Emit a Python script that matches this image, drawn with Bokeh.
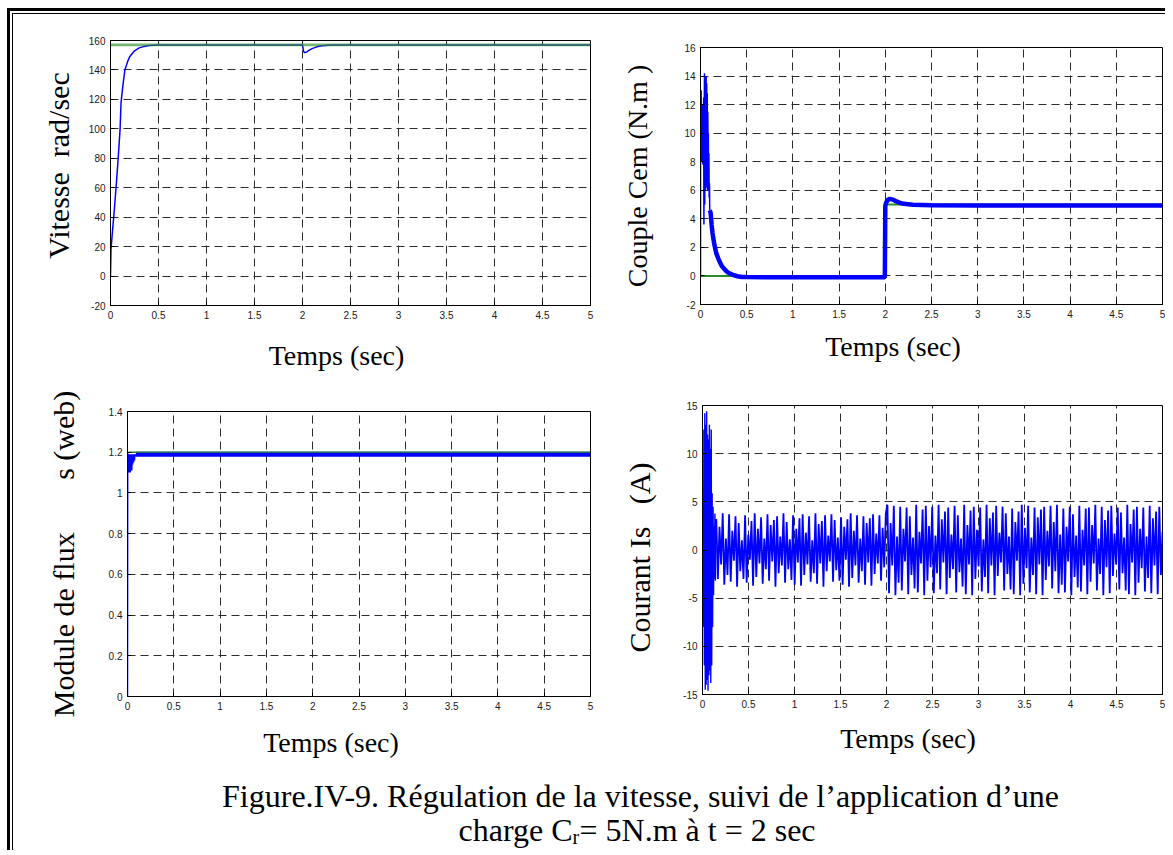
import numpy as np
from bokeh.plotting import figure
from bokeh.layouts import column, row
from bokeh.models import Range1d, FixedTicker, Label, Spacer
from bokeh.embed import file_html
from bokeh.resources import INLINE

# ---------------- axes / ticks ----------------
x_ticks = [0, 0.5, 1, 1.5, 2, 2.5, 3, 3.5, 4, 4.5, 5]
x_tick_labels = ["0", "0.5", "1", "1.5", "2", "2.5", "3", "3.5", "4", "4.5", "5"]

speed_ticks = [-20, 0, 20, 40, 60, 80, 100, 120, 140, 160]
speed_tick_labels = ["-20", "0", "20", "40", "60", "80", "100", "120", "140", "160"]
torque_ticks = [-2, 0, 2, 4, 6, 8, 10, 12, 14, 16]
torque_tick_labels = ["-2", "0", "2", "4", "6", "8", "10", "12", "14", "16"]
flux_ticks = [0, 0.2, 0.4, 0.6, 0.8, 1, 1.2, 1.4]
flux_tick_labels = ["0", "0.2", "0.4", "0.6", "0.8", "1", "1.2", "1.4"]
current_ticks = [-15, -10, -5, 0, 5, 10, 15]
current_tick_labels = ["-15", "-10", "-5", "0", "5", "10", "15"]

# ---------------- speed (rad/s) ----------------
speed_t = [0, 0.005, 0.02, 0.04, 0.06, 0.08, 0.1, 0.11, 0.13, 0.15, 0.18, 0.2, 0.25,
           0.3, 0.35, 0.4, 0.5, 0.6, 1.0, 1.5, 2.0, 2.01, 2.02, 2.04, 2.07, 2.1, 2.15,
           2.2, 2.3, 2.5, 3.0, 4.0, 5.0]
speed = [0, 18, 30, 45, 62, 80, 100, 118, 130, 140, 146, 149, 153,
         155, 156, 156.6, 157, 157, 157, 157, 157, 153, 151.8, 152, 153.5, 154.5, 155.7,
         156.4, 157, 157, 157, 157, 157]
speed_ref_t = [0, 5]
speed_ref = [157, 157]

# ---------------- electromagnetic torque (N.m) ----------------
cem_start_t = [0.000, 0.001, 0.004, 0.007, 0.010, 0.013, 0.016, 0.019, 0.022, 0.025,
               0.028, 0.031, 0.034, 0.037, 0.040, 0.043, 0.046, 0.049, 0.052, 0.055,
               0.058, 0.061, 0.064, 0.067, 0.070, 0.073, 0.076, 0.079, 0.082, 0.085,
               0.088, 0.091, 0.094, 0.097, 0.100]
cem_start = [0, 12.8, 10.5, 13.0, 9.8, 11.5, 8.0, 12.0, 9.5, 7.8,
             11.0, 9.0, 12.5, 3.6, 10.0, 14.2, 5.0, 14.0, 6.0, 13.8,
             7.5, 14.0, 6.2, 13.5, 8.0, 12.8, 6.0, 11.5, 8.5, 10.0,
             6.0, 8.6, 5.5, 6.5, 4.6]
cem_t = [0.1, 0.11, 0.12, 0.13, 0.15, 0.17, 0.2, 0.23, 0.27, 0.3, 0.35, 0.4, 0.45,
         0.5, 1.0, 1.5, 1.995, 2.0, 2.01, 2.03, 2.05, 2.08, 2.12, 2.16, 2.2, 2.3, 2.5,
         3.0, 4.0, 5.0]
cem = [4.6, 4.4, 3.6, 3.0, 2.2, 1.6, 1.1, 0.7, 0.4, 0.22, 0.08, -0.02, -0.07,
       -0.08, -0.1, -0.1, -0.1, 4.9, 5.15, 5.35, 5.4, 5.35, 5.22, 5.12, 5.05, 4.98, 4.95,
       4.93, 4.93, 4.93]
cem_ref_t = [0, 2, 2, 5]
cem_ref = [0, 0, 5, 5]

# ---------------- stator flux (Wb) ----------------
flux_start_t = [0, 0.002, 0.006, 0.01, 0.014, 0.018, 0.022, 0.026, 0.03, 0.034, 0.038,
                0.042, 0.046, 0.05, 0.055, 0.06, 0.065, 0.07, 0.075, 0.08, 0.09]
flux_start = [0, 1.20, 1.12, 1.19, 1.10, 1.19, 1.11, 1.19, 1.10, 1.19, 1.12,
              1.19, 1.11, 1.19, 1.14, 1.19, 1.15, 1.19, 1.16, 1.19, 1.18]
flux_t = [0.09, 1.0, 2.0, 3.0, 4.0, 5.0]
flux = [1.19, 1.19, 1.19, 1.19, 1.19, 1.19]
flux_ref_t = [0, 5]
flux_ref = [1.2, 1.2]

# ---------------- stator current (A) ----------------
is_start_t = [0.000, 0.005, 0.010, 0.015, 0.020, 0.025, 0.030, 0.035, 0.040, 0.045,
              0.050, 0.055, 0.060, 0.065, 0.070, 0.075, 0.080, 0.085, 0.090, 0.095,
              0.100, 0.105, 0.110, 0.115, 0.120, 0.125, 0.130, 0.135, 0.140, 0.145, 0.150]
is_start = [0, 3.5, -8.0, 12.5, -12.0, 14.2, -14.5, 13.0, -14.0, 14.4,
            -13.5, 12.0, -14.6, 11.5, -13.0, 13.0, -12.5, 10.5, -13.8, 12.5,
            -12.0, 5.9, -8.0, 4.5, -4.7, 2.5, -3.0, 3.8, -3.2, 1.5, 3.2]
is_vals = [
    3.2, -3.0, 2.4, -1.5, 3.8, -3.6, 1.2, -2.6, 3.7, -3.3,
    2.0, -1.1, 3.5, -3.8, 2.8, -2.2, 1.0, -3.0, 3.6, -3.4,
    1.6, -1.0, 3.0, -3.7, 3.8, -2.8, 2.2, -1.4, 3.4, -3.5,
    1.2, -2.0, 3.7, -3.2, 2.6, -1.2, 3.1, -3.8, 3.5, -2.4,
    1.4, -1.6, 3.8, -3.4, 2.9, -2.0, 1.1, -3.1, 3.6, -3.6,
    2.2, -1.3, 3.3, -3.7, 3.7, -2.6, 1.8, -1.5, 3.5, -3.3,
    1.0, -2.4, 3.8, -3.5, 2.7, -1.4, 3.0, -3.8, 3.6, -2.2,
    1.5, -1.2, 3.7, -3.3, 3.1, -2.1, 1.3, -3.2, 3.4, -3.6,
    2.4, -1.0, 3.2, -3.8, 3.8, -2.9, 2.0, -1.6, 3.6, -3.4,
    1.2, -2.2, 3.5, -3.6, 2.8, -1.3, 3.3, -3.7, 3.7, -2.5,
    1.7, -1.4, 3.6, -3.2, 2.3, -1.8, 3.8,
    4.7, -4.5, 2.8, -1.6, 4.6, -4.7, 1.4, -3.4, 4.5, -4.2,
    2.2, -1.2, 4.4, -4.6, 3.5, -2.6, 1.3, -4.0, 4.7, -4.4,
    1.9, -1.4, 4.2, -4.7, 4.6, -3.2, 2.5, -1.8, 4.5, -4.5,
    1.5, -2.4, 4.7, -4.1, 3.2, -1.3, 4.0, -4.6, 4.4, -2.9,
    1.6, -2.0, 4.6, -4.4, 3.6, -2.3, 1.2, -3.8, 4.7, -4.6,
    2.6, -1.5, 4.1, -4.7, 4.5, -3.0, 2.1, -1.7, 4.4, -4.3,
    1.1, -2.8, 4.7, -4.5, 3.3, -1.6, 3.9, -4.7, 4.6, -2.7,
    1.8, -1.3, 4.5, -4.2, 3.8, -2.5, 1.4, -4.1, 4.3, -4.6,
    2.9, -1.1, 4.0, -4.7, 4.7, -3.5, 2.3, -1.9, 4.6, -4.4,
    1.3, -2.6, 4.4, -4.6, 3.4, -1.5, 4.2, -4.7, 4.5, -3.1,
    2.0, -1.7, 4.6, -4.0, 2.9, -2.2, 4.7, -4.5, 1.6, -3.6,
    4.3, -4.4, 2.4, -1.2, 4.5, -4.7, 3.7, -2.8, 1.5, -3.9,
    4.6, -4.3, 2.1, -1.6, 4.3, -4.6, 4.4, -3.3, 2.6, -1.4,
    4.7, -4.2, 1.2, -2.5, 4.5, -4.7, 3.1, -1.8, 4.1, -4.5,
    4.6, -2.7, 1.7, -1.5, 4.4, -4.1, 3.9, -2.4, 1.3, -4.2,
    4.7, -4.6, 2.7, -1.3, 4.2, -4.7, 4.5, -3.4, 2.2, -1.9,
    4.4, -4.3, 1.4, -2.9, 4.6, -4.5, 3.3, -1.6, 4.0, -4.6,
    4.5, -2.6, 1.9,
]
is_t = np.linspace(0.15, 5.0, len(is_vals))

# ---------------- styling helpers ----------------
BLUE = "#0000ff"
GREEN = "#2a8c2a"
SERIF = "Liberation Serif"
SANS = "Liberation Sans"
NB = "\u00a0"


def make_panel(ylo, yhi, yticks, ylabels, ylabel, ylab_size, xlabel, fw, fh, bl, br, bt, bb,
               ylab_standoff, xlab_standoff):
    p = figure(frame_width=fw, frame_height=fh,
               min_border_left=bl, min_border_right=br,
               min_border_top=bt, min_border_bottom=bb,
               x_range=Range1d(0, 5), y_range=Range1d(ylo, yhi),
               toolbar_location=None, output_backend="svg",
               background_fill_color="white", border_fill_color="white")
    p.outline_line_color = "black"
    p.outline_line_width = 1
    p.outline_line_alpha = 1
    for ax, ticks, labels in ((p.xaxis[0], x_ticks, x_tick_labels),
                              (p.yaxis[0], yticks, ylabels)):
        ax.ticker = FixedTicker(ticks=ticks)
        ax.major_label_overrides = {t: l for t, l in zip(ticks, labels)}
        ax.major_tick_in = 4
        ax.major_tick_out = 0
        ax.major_tick_line_color = "black"
        ax.minor_tick_line_color = None
        ax.axis_line_color = "black"
        ax.major_label_text_font = SANS
        ax.major_label_text_font_size = "10px"
        ax.major_label_text_color = "#1a1a1a"
        ax.major_label_standoff = 5
        ax.axis_label_text_font = SERIF
        ax.axis_label_text_font_size = "28px"
        ax.axis_label_text_font_style = "normal"
        ax.axis_label_text_color = "black"
    p.xaxis.axis_label = xlabel
    p.xaxis.axis_label_standoff = xlab_standoff
    p.yaxis.axis_label = ylabel
    p.yaxis.axis_label_text_font_size = ylab_size
    p.yaxis.axis_label_standoff = ylab_standoff
    p.xgrid.ticker = FixedTicker(ticks=x_ticks)
    p.ygrid.ticker = FixedTicker(ticks=yticks)
    p.grid.grid_line_color = "#2b2b2b"
    p.grid.grid_line_dash = "8 5"
    p.grid.grid_line_width = 1
    p.grid.grid_line_alpha = 1
    return p


# speed
p1 = make_panel(-20, 160, speed_ticks, speed_tick_labels,
                NB * 2 + "Vitesse" + NB * 2 + "rad/sec", "30px", "Temps (sec)" + NB * 4,
                480, 265, 97, 25, 26, 75, 11, 18)
p1.line(speed_t, speed, line_color=BLUE, line_width=1.5)
p1.line(speed_ref_t, speed_ref, line_color=GREEN, line_width=2.6, line_alpha=0.65)

# torque
p2 = make_panel(-2, 16, torque_ticks, torque_tick_labels,
                "Couple Cem (N.m )", "28px", "Temps (sec)" + NB * 11,
                462, 257, 85, 3, 26, 76, 28, 10)
p2.line(cem_ref_t, cem_ref, line_color=GREEN, line_width=2)
p2.line(cem_start_t, cem_start, line_color=BLUE, line_width=1.5)
p2.line(cem_t, cem, line_color=BLUE, line_width=4.5)

# flux
p3 = make_panel(0, 1.4, flux_ticks, flux_tick_labels,
                "Module de flux" + NB * 7 + "s (web)", "30px", "Temps (sec)" + NB * 8,
                463, 285, 114, 25, 25, 74, 26, 14)
p3.line(flux_start_t, flux_start, line_color=BLUE, line_width=1.5)
p3.line(flux_t, flux, line_color=BLUE, line_width=5)
p3.line(flux_ref_t, flux_ref, line_color=GREEN, line_width=1.2)

# current
p4 = make_panel(-15, 15, current_ticks, current_tick_labels,
                "Courant Is" + NB * 3 + "(A)" + NB * 2, "30px", "Temps (sec)" + NB * 7,
                460, 289, 87, 3, 25, 76, 24, 12)
p4.line(is_start_t, is_start, line_color=BLUE, line_width=1.4)
p4.line(is_t, is_vals, line_color=BLUE, line_width=1.8)

# caption
cap = figure(frame_width=1152, frame_height=80, min_border=0,
             x_range=Range1d(0, 1), y_range=Range1d(0, 1),
             x_axis_location=None, y_axis_location=None,
             toolbar_location=None, output_backend="svg",
             background_fill_color="white", border_fill_color="white")
cap.outline_line_color = None
cap.grid.visible = False
cap_font = dict(text_font=SERIF, text_color="black", text_baseline="middle")
cap.add_layout(Label(x=627, y=55, x_units="screen", y_units="screen",
                     text="Figure.IV-9. Régulation de la vitesse, suivi de l\u2019application d\u2019une",
                     text_align="center", text_font_size="32px", **cap_font))
cap.add_layout(Label(x=445, y=21, x_units="screen", y_units="screen",
                     text="charge C", text_align="left", text_font_size="32px", **cap_font))
cap.add_layout(Label(x=559, y=14, x_units="screen", y_units="screen",
                     text="r", text_align="left", text_font_size="20px", **cap_font))
cap.add_layout(Label(x=566, y=21, x_units="screen", y_units="screen",
                     text="= 5N.m à t = 2 sec", text_align="left", text_font_size="32px", **cap_font))

row1 = row(p1, column(Spacer(width=550, height=7), p2))
row2 = row(column(Spacer(width=602, height=6), p3), p4)
inner = column(row1, row2, cap,
               styles={"border-left": "1px solid black", "border-top": "1px solid black"})
outer = column(inner, styles={"border-left": "3px solid black", "border-top": "3px solid black",
                              "padding-left": "2px", "padding-top": "2px",
                              "margin-left": "7px", "margin-top": "8px"})

open("out.html", "w").write(file_html(outer, INLINE))
